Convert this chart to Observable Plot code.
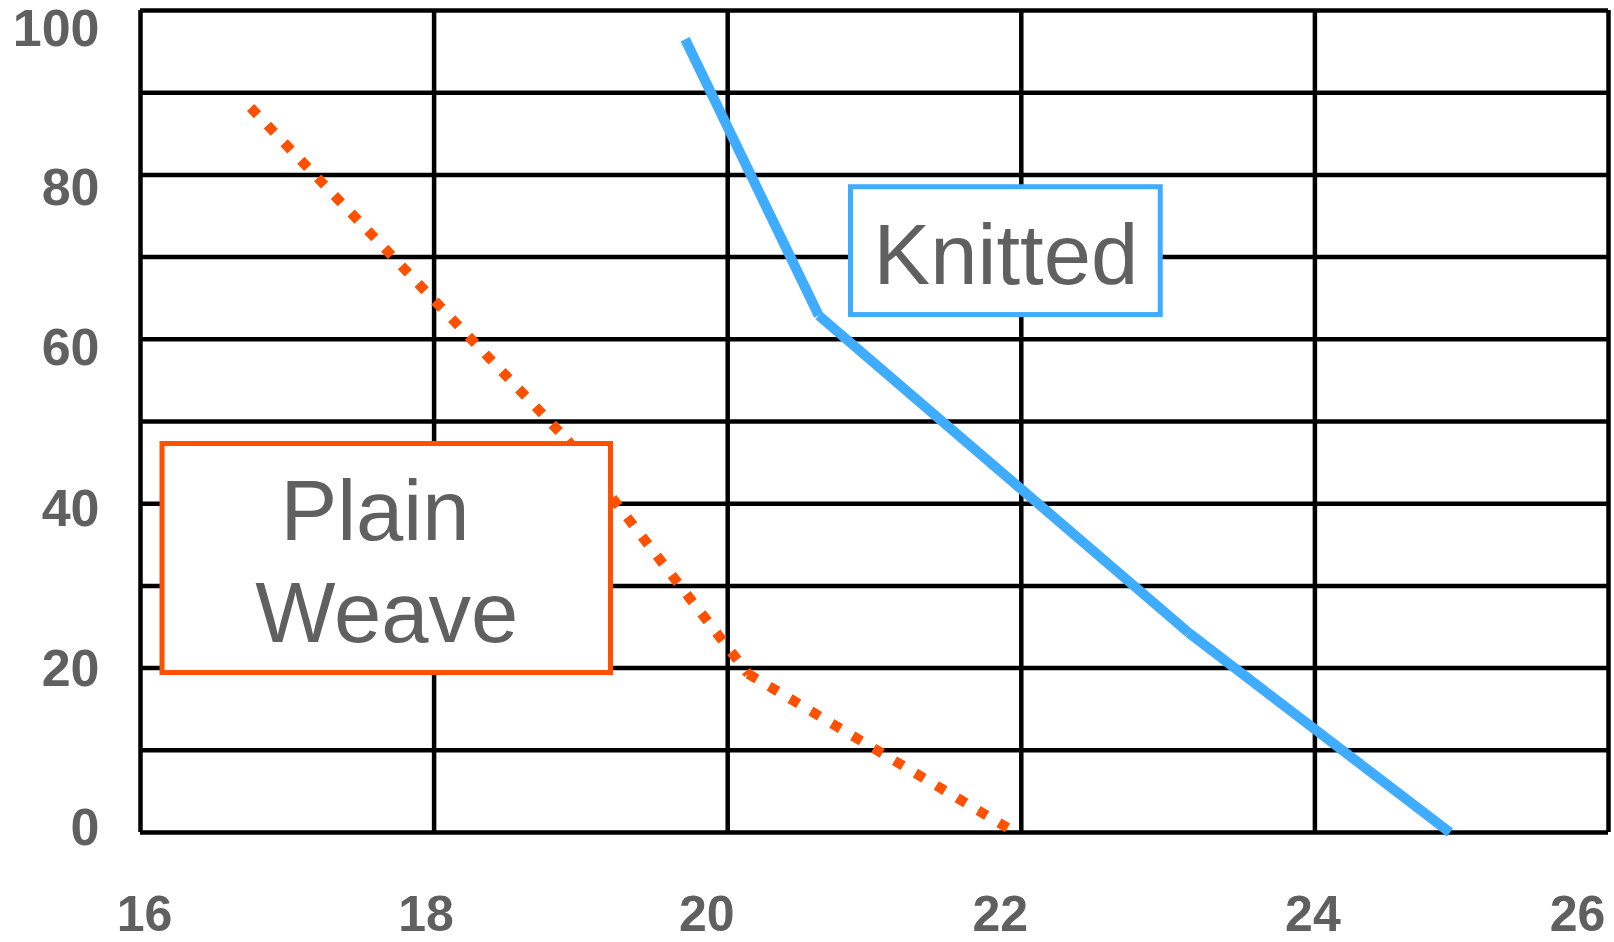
<!DOCTYPE html>
<html>
<head>
<meta charset="utf-8">
<script src="https://cdn.jsdelivr.net/npm/d3@7"></script>
<script src="https://cdn.jsdelivr.net/npm/@observablehq/plot@0.6"></script>
<style>
  html, body { margin: 0; padding: 0; background: #fff; }
  #chart svg { display: block; overflow: visible; }
</style>
</head>
<body>
<div id="chart"></div>
<script>
// ---- data ----
const xTicks = [16, 18, 20, 22, 24, 26];
const yTicks = [0, 20, 40, 60, 80, 100];
const yGrid = [0, 10, 20, 30, 40, 50, 60, 70, 80, 90, 100];

const knittedX = [19.71, 20.62, 23.14, 24.92];
const knittedY = [96.5, 62.9, 24.3, 0];

const plainX = [16.75, 18.91, 20.14, 21.96];
const plainY = [88.2, 47.7, 19.3, 0];

const labelNames = ["Knitted", "Plain\u00a0\nWeave"];
const labelX1 = [20.84, 16.15];
const labelX2 = [22.95, 19.205];
const labelY1 = [62.95, 19.4];
const labelY2 = [78.5, 47.26];

// ---- styles ----
const BLUE = "#40ACFF";
const ORANGE = "#FF5000";
const TEXT = "#606060";
const labelColors = [BLUE, ORANGE];
const yDy = {0: -4, 20: 1, 40: 6, 60: 9, 80: 13, 100: 19};
const xDx = {16: 4, 18: -8, 20: -21, 22: -21, 24: -2, 26: -31};

function segments(xs, ys) {
  const out = [];
  for (let i = 0; i < xs.length - 1; i++) {
    out.push({x1: xs[i], y1: ys[i], x2: xs[i + 1], y2: ys[i + 1]});
  }
  return out;
}
const labels = labelNames.map((t, i) => ({
  text: t, x1: labelX1[i], x2: labelX2[i], y1: labelY1[i], y2: labelY2[i],
  cx: (labelX1[i] + labelX2[i]) / 2, cy: (labelY1[i] + labelY2[i]) / 2, color: labelColors[i]
}));

const fmt = d => String(d);

const marks = [
  Plot.ruleY(yGrid, {stroke: "#000", strokeWidth: 4.5}),
  Plot.ruleX(xTicks, {stroke: "#000", strokeWidth: 4.5}),
  Plot.link(segments(plainX, plainY), {
    x1: "x1", y1: "y1", x2: "x2", y2: "y2",
    stroke: ORANGE, strokeWidth: 10, strokeLinecap: "butt", strokeDasharray: "10,14.3"
  }),
  Plot.link(segments(knittedX, knittedY), {
    x1: "x1", y1: "y1", x2: "x2", y2: "y2",
    stroke: BLUE, strokeWidth: 10, strokeLinecap: "butt"
  }),
  ...labels.map(l => Plot.rect([l], {
    x1: "x1", x2: "x2", y1: "y1", y2: "y2",
    fill: "#fff", stroke: l.color, strokeWidth: 5
  })),
  Plot.text(labels, {
    x: "cx", y: "cy", text: "text", fill: TEXT, fontSize: 85, lineHeight: 1.2,
    fontFamily: "Liberation Sans, Arial, sans-serif"
  }),
  ...yTicks.map(t => Plot.axisY([t], {
    tickSize: 0, tickPadding: 41, fontSize: 52, fontWeight: "bold", fill: TEXT,
    dy: yDy[t], label: null, tickFormat: fmt
  })),
  ...xTicks.map(t => Plot.axisX([t], {
    tickSize: 0, tickPadding: 63, fontSize: 50, fontWeight: "bold", fill: TEXT,
    dx: xDx[t], label: null, tickFormat: fmt
  }))
];

const chart = Plot.plot({
  width: 1614,
  height: 942,
  marginLeft: 140,
  marginRight: 6,
  marginTop: 10,
  marginBottom: 110,
  x: {domain: [16, 26], label: null},
  y: {domain: [0, 100], label: null},
  style: {fontFamily: "Liberation Sans, Arial, sans-serif", color: TEXT, background: "#fff"},
  marks
});
document.getElementById("chart").appendChild(chart);
</script>
</body>
</html>
